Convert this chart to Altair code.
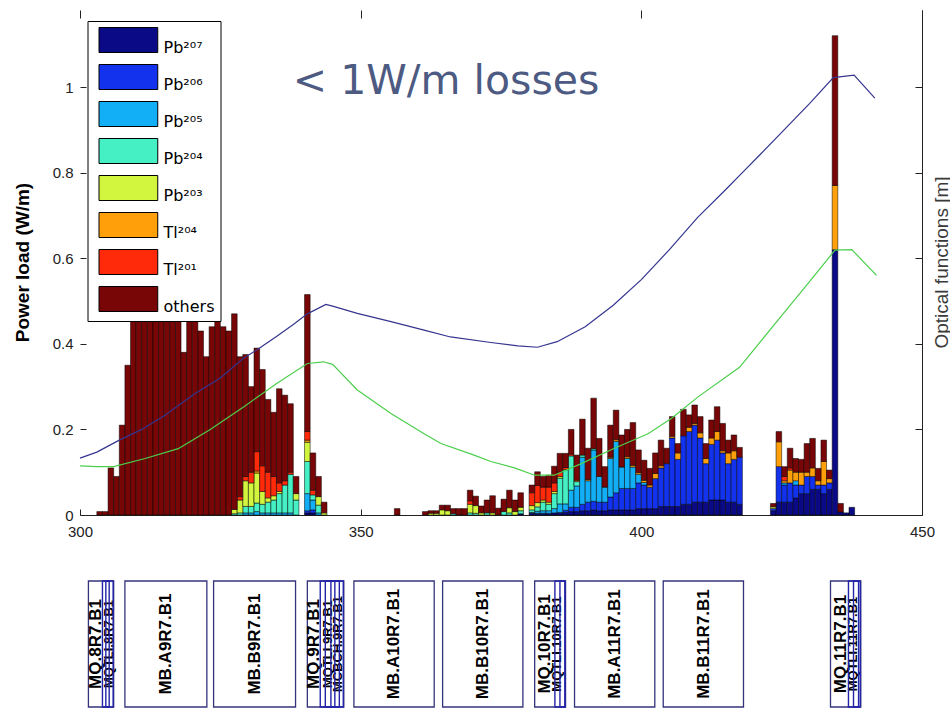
import altair as alt
import pandas as pd

# ---------------- data ----------------
species = ["Pb²⁰⁷", "Pb²⁰⁶", "Pb²⁰⁵", "Pb²⁰⁴", "Pb²⁰³", "Tl²⁰⁴", "Tl²⁰¹", "others"]
colors = ["#0a0a86", "#1232ee", "#12aef6", "#44f0c4", "#d2f53e", "#ffa00a", "#ff2a0a", "#780606"]

# power load per 1 m bin (W/m), keyed by bin start position [m]
pb207 = {340: .005, 341: .005, 378: .003, 380: .004, 381: .004, 382: .004, 383: .004, 384: .005,
         385: .006, 386: .006, 387: .008, 388: .008, 389: .01, 390: .01, 391: .012, 392: .01,
         393: .01, 394: .012, 395: .012, 396: .012, 397: .012, 398: .012, 399: .015, 400: .015,
         401: .015, 402: .015, 403: .02, 404: .02, 405: .02, 406: .02, 407: .025, 408: .025,
         409: .03, 410: .03, 411: .03, 412: .035, 413: .035, 414: .035, 415: .03, 416: .03,
         417: .025, 423: .01, 424: .03, 425: .03, 426: .03, 427: .04, 428: .05, 429: .05,
         430: .06, 431: .06, 432: .05, 433: .06, 434: .62, 435: .007, 436: .005, 437: .018}
pb206 = {340: .005, 341: .007, 380: .002, 386: .005, 387: .01, 388: .01, 389: .015, 390: .02,
         391: .02, 392: .02, 393: .02, 394: .03, 395: .04, 396: .05, 397: .05, 398: .05,
         399: .06, 400: .055, 401: .05, 402: .07, 403: .09, 404: .1, 405: .16, 406: .11,
         407: .16, 408: .17, 409: .18, 410: .15, 411: .09, 412: .13, 413: .14, 414: .11,
         415: .09, 416: .1, 417: .11, 423: .005, 424: .083, 425: .04, 426: .045, 427: .03,
         428: .02, 429: .04, 430: .03, 431: .01, 432: .02, 433: .015}
pb205 = {329: .005, 330: .005, 331: .008, 332: .005, 333: .005, 334: .005, 335: .005, 336: .005,
         337: .005, 340: .04, 341: .023, 342: .005, 381: .005, 382: .006, 383: .006, 384: .01,
         385: .02, 386: .015, 387: .04, 388: .05, 389: .11, 390: .05, 391: .12, 392: .06,
         393: .035, 394: .09, 395: .12, 396: .05, 397: .07, 398: .05, 399: .02, 400: .006,
         425: .005, 427: .01}
pb204 = {327: .003, 328: .005, 329: .015, 330: .015, 331: .02, 332: .02, 333: .025, 334: .03,
         335: .045, 336: .065, 337: .09, 338: .035, 340: .075, 341: .012, 342: .018, 366: .003,
         369: .005, 370: .004, 372: .005, 375: .008, 376: .005, 378: .007, 380: .006, 381: .01,
         382: .02, 383: .015, 384: .035, 385: .06, 386: .08, 387: .08, 388: .01, 389: .005,
         391: .003}
pb203 = {327: .01, 328: .03, 329: .06, 330: .055, 331: .07, 332: .03, 333: .01, 334: .01,
         335: .005, 338: .015, 340: .045, 342: .02, 343: .005, 362: .004, 363: .004, 364: .012,
         365: .01, 369: .02, 370: .018, 371: .005, 373: .005, 376: .012, 377: .008, 378: .008,
         380: .01, 381: .01, 382: .005, 383: .005, 384: .005, 385: .004, 423: .004}
tl204 = {331: .005, 340: .005, 388: .003, 390: .003, 394: .003, 395: .004, 397: .004, 398: .004,
         399: .004, 400: .005, 401: .005, 402: .012, 403: .005, 405: .004, 406: .015, 408: .01,
         409: .004, 410: .012, 411: .012, 412: .015, 413: .02, 414: .005, 415: .025, 416: .02,
         424: .058, 425: .005, 426: .03, 427: .02, 428: .03, 429: .01, 430: .02, 431: .01,
         432: .055, 433: .01, 434: .15}
tl201 = {328: .008, 329: .01, 330: .025, 331: .045, 332: .06, 333: .06, 334: .045, 335: .02,
         336: .01, 337: .005, 340: .02, 341: .011, 369: .008, 380: .03, 381: .04, 382: .03,
         383: .035, 384: .02, 385: .01, 386: .005, 387: .004, 425: .01, 426: .005}
others = {303: .008, 304: .008, 305: .11, 306: .09, 307: .21, 308: .35, 309: .46, 310: .49,
          311: .58, 312: .53, 313: .50, 314: .53, 315: .58, 316: .49, 317: .47, 318: .38,
          319: .52, 320: .46, 321: .43, 322: .37, 323: .44, 324: .54, 325: .44, 326: .43,
          327: .457, 328: .327, 329: .285, 330: .20, 331: .242, 332: .225, 333: .17, 334: .15,
          335: .22, 336: .20, 337: .16, 338: .04, 340: .32, 341: .087, 342: .047, 343: .025,
          356: .015, 361: .008, 362: .006, 363: .006, 364: .011, 365: .013, 366: .012, 367: .015,
          368: .015, 369: .025, 370: .022, 371: .016, 372: .03, 373: .04, 374: .016, 375: .029,
          376: .041, 377: .027, 378: .034, 380: .018, 381: .032, 382: .025, 383: .028, 384: .039,
          385: .044, 386: .033, 387: .058, 388: .059, 389: .084, 390: .073, 391: .118, 392: .089,
          393: .048, 394: .075, 395: .069, 396: .075, 397: .064, 398: .10, 399: .053, 400: .047,
          401: .039, 402: .048, 403: .06, 404: .036, 405: .046, 406: .022, 407: .062, 408: .029,
          409: .043, 410: .038, 411: .035, 412: .042, 413: .058, 414: .064, 415: .03, 416: .037,
          417: .023, 423: .008, 424: .024, 425: .023, 426: .046, 427: .032, 428: .03, 429: .067,
          430: .069, 431: .029, 432: .05, 433: .02, 434: .35, 435: .02}

# optical functions (drawn on the power-load pixel scale)
blue_x = [300, 303, 307, 311, 315, 320.5, 325, 329, 332, 335, 338, 340.5, 343.8, 345, 349.4,
          355.4, 361.3, 366, 373.2, 378, 381.5, 385, 390, 395, 400, 405, 410, 415, 418, 421,
          425, 430, 434.2, 437.9, 441.6]
blue_y = [0.133, 0.147, 0.175, 0.20, 0.232, 0.284, 0.32, 0.365, 0.39, 0.417, 0.445, 0.47, 0.492,
          0.488, 0.471, 0.452, 0.432, 0.416, 0.403, 0.395, 0.392, 0.405, 0.44, 0.49, 0.55, 0.62,
          0.695, 0.76, 0.80, 0.84, 0.894, 0.962, 1.022, 1.028, 0.974]
green_x = [300, 303, 306, 311.6, 317.5, 323.2, 329.2, 335.1, 340.5, 343.4, 345, 349.4, 355.4,
           361.3, 364.3, 370.2, 373.2, 377.4, 381, 384.5, 389.3, 395.2, 401.2, 405.4, 410.1,
           417.5, 425, 430, 434.5, 437.5, 441.9]
green_y = [0.115, 0.113, 0.113, 0.132, 0.155, 0.2, 0.253, 0.308, 0.354, 0.358, 0.352, 0.292,
           0.237, 0.19, 0.167, 0.14, 0.125, 0.11, 0.093, 0.093, 0.12, 0.156, 0.19, 0.226, 0.276,
           0.345, 0.466, 0.546, 0.619, 0.62, 0.56]

# lattice elements
lat_name = ["MQ.8R7.B1", "MB.A9R7.B1", "MB.B9R7.B1", "MQ.9R7.B1", "MB.A10R7.B1", "MB.B10R7.B1",
            "MQ.10R7.B1", "MB.A11R7.B1", "MB.B11R7.B1", "MQ.11R7.B1"]
lat_start = [301.5, 308.0, 323.8, 340.5, 348.8, 364.6, 381.0, 388.1, 403.9, 433.7]
lat_end = [306.0, 322.6, 338.4, 347.0, 363.1, 378.9, 386.5, 402.4, 418.2, 439.1]
lat_label_x = [302.8, 315.3, 331.1, 341.7, 356.0, 371.8, 382.8, 395.3, 411.1, 435.6]

sub_name = ["MQTLI.8R7.B1", "MQTLI.9R7.B1", "MCBCH.9R7.B1", "MQTLI.10R7.B1", "MQTLI.11R7.B1"]
sub_label_x = [305.1, 344.1, 345.9, 385.0, 437.7]
sub_start = [304.0, 304.6, 342.8, 343.7, 344.7, 384.6, 385.5, 436.9, 437.8]
sub_end = [305.9, 305.2, 346.9, 345.4, 346.2, 386.4, 386.4, 439.0, 438.7]

note_text = ["< 1W/m losses"]
note_x = [337.9]
note_y = [1.012]

# ---------------- tables ----------------
rows = []
for order, (name, comp) in enumerate(zip(species, [pb207, pb206, pb205, pb204, pb203, tl204, tl201, others])):
    for b, v in comp.items():
        rows.append({"species": name, "order": order, "bin": b, "value": v})
bars_df = pd.DataFrame(rows)
blue_df = pd.DataFrame({"x": blue_x, "y": blue_y})
green_df = pd.DataFrame({"x": green_x, "y": green_y})
note_df = pd.DataFrame({"t": note_text, "x": note_x, "y": note_y})
lat_df = pd.DataFrame({"name": lat_name, "start": lat_start, "end": lat_end, "lx": lat_label_x})
sub_lab_df = pd.DataFrame({"name": sub_name, "lx": sub_label_x})
sub_df = pd.DataFrame({"start": sub_start, "end": sub_end})

FONT = "Liberation Sans"
W, H = 842, 505
LAT_TOP, LAT_BOT = 571, 697          # lattice strip, pixels below the plot origin
xs = alt.Scale(domain=[300, 450], nice=False, zero=False)
ys = alt.Scale(domain=[0, 1.18], nice=False, zero=False)
yticks = [0, 0.2, 0.4, 0.6, 0.8, 1.0]

x_axis = alt.Axis(orient="bottom", values=[300, 350, 400, 450], format="d", labelFlush=False,
                  grid=False, tickSize={"expr": "-6"}, labelPadding=15, labelFontSize=15,
                  labelFont=FONT, labelColor="#222222", domainColor="#222222",
                  tickColor="#222222", title=None)
y_axis = alt.Axis(orient="left", values=yticks, format="~g", grid=False, domain=False,
                  tickSize={"expr": "-6"}, labelPadding=13, labelFontSize=15, labelFont=FONT,
                  labelColor="#222222", tickColor="#222222",
                  title="Power load (W/m)", titleFont=FONT, titleFontSize=19,
                  titleFontWeight="bold", titleColor="black", titleX=-58, titleY=252,
                  titleAngle=270, titleAlign="center", titleBaseline="middle")
r_axis = alt.Axis(orient="right", values=yticks, labels=False, grid=False,
                  tickSize={"expr": "-7"}, domainColor="#222222", tickColor="#222222",
                  title="Optical functions [m]", titleFont=FONT, titleFontSize=19,
                  titleFontWeight="normal", titleColor="#3a3a3a", titleX=19, titleY=252,
                  titleAngle=270, titleAlign="center", titleBaseline="middle")
t_axis = alt.Axis(orient="top", values=[300, 350, 400, 450], labels=False, domain=False,
                  grid=False, tickSize={"expr": "-8"}, tickColor="#222222", title=None)

legend = alt.Legend(orient="none", legendX=7.5, legendY=11, title=None,
                    symbolType="M-0.6,-1H4.1V1H-0.6Z", symbolSize=625,
                    symbolStrokeColor="black", symbolStrokeWidth=1, symbolOpacity=1,
                    labelFont="DejaVu Sans", labelFontSize=16, labelColor="black",
                    labelBaseline="top", labelOffset=44, rowPadding=6, padding=6,
                    fillColor="white", strokeColor="black", labelLimit=200)

bars = alt.Chart(bars_df).transform_stack(
    stack="value", groupby=["bin"], sort=[alt.SortField("order", order="ascending")],
    as_=["y0", "y1"]
).transform_calculate(bin_end="datum.bin + 1").mark_rect(
    stroke="black", strokeWidth=0.6, strokeOpacity=0.85
).encode(
    x=alt.X("bin:Q", scale=xs, axis=x_axis),
    x2="bin_end:Q",
    y=alt.Y("y0:Q", scale=ys, axis=y_axis),
    y2="y1:Q",
    color=alt.Color("species:N", scale=alt.Scale(domain=species, range=colors),
                    legend=legend, sort=species),
)

blue = alt.Chart(blue_df).mark_line(color="#35358f", strokeWidth=1.2).encode(
    x=alt.X("x:Q", scale=xs, axis=None),
    y=alt.Y("y:Q", scale=ys, axis=r_axis),
)
green = alt.Chart(green_df).mark_line(color="#4ccf4c", strokeWidth=1.2).encode(
    x=alt.X("x:Q", scale=xs, axis=t_axis),
    y=alt.Y("y:Q", scale=ys, axis=None),
)
note = alt.Chart(note_df).mark_text(align="left", baseline="middle", font="DejaVu Sans",
                                    fontSize=41, color="#4d5a82").encode(
    x=alt.X("x:Q", scale=xs, axis=None),
    y=alt.Y("y:Q", scale=ys, axis=None),
    text="t:N",
)

# lattice strip below the axis (same x scale)
boxes = alt.Chart(lat_df).mark_rect(fill="white", stroke="#34347c", strokeWidth=1.3).encode(
    x=alt.X("start:Q", scale=xs, axis=None), x2="end:Q",
    y=alt.value(LAT_TOP), y2=alt.value(LAT_BOT))
lab = alt.Chart(lat_df).mark_text(angle=270, font=FONT, fontWeight="bold", fontSize=17,
                                  color="black", align="center", baseline="middle").encode(
    x=alt.X("lx:Q", scale=xs, axis=None), y=alt.value((LAT_TOP + LAT_BOT) / 2), text="name:N")
sublab = alt.Chart(sub_lab_df).mark_text(angle=270, font=FONT, fontWeight="bold", fontSize=13,
                                         color="black", align="center", baseline="middle").encode(
    x=alt.X("lx:Q", scale=xs, axis=None), y=alt.value((LAT_TOP + LAT_BOT) / 2), text="name:N")
subs = alt.Chart(sub_df).mark_rect(fill="white", fillOpacity=0, stroke="#2424a8",
                                   strokeWidth=1.4).encode(
    x=alt.X("start:Q", scale=xs, axis=None), x2="end:Q",
    y=alt.value(LAT_TOP), y2=alt.value(LAT_BOT))

chart = alt.layer(bars, blue, green, note, boxes, lab, sublab, subs).resolve_axis(
    x="independent", y="independent"
).properties(
    width=W, height=H,
    padding={"left": 80, "top": 10, "right": 28, "bottom": 195},
    autosize=alt.AutoSizeParams(type="none"),
).configure(font=FONT, view=alt.ViewConfig(strokeWidth=0))

chart.save("out.html", embed_options={"renderer": "svg", "actions": False})
